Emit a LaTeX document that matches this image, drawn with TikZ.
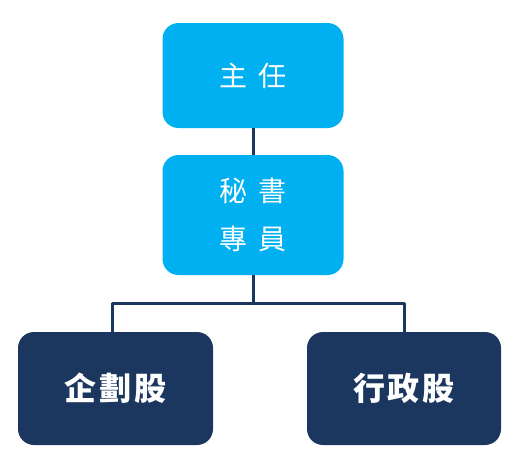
\documentclass[tikz,border=0pt]{standalone}
\usepackage{fontspec}
\usepackage{xcolor}
\usepackage{tikz}
\newfontfamily\cjk{Noto Sans CJK TC}
\definecolor{lightblue}{HTML}{00B0F0}
\definecolor{navy}{HTML}{1B375F}

\tikzset{
    chief/.style={rectangle, rounded corners=16pt, fill=lightblue, text=white,
                  minimum width=181pt, minimum height=105pt, inner sep=0pt,
                  font=\cjk\fontsize{28}{48}\selectfont, align=center},
    section/.style={rectangle, rounded corners=16pt, fill=navy, text=white,
                  minimum width=195pt, minimum height=113pt, inner sep=0pt,
                  font=\cjk\bfseries\fontsize{32}{36}\selectfont},
    link/.style={draw=navy, line width=3pt}
}

\begin{document}
\begin{tikzpicture}[x=1pt, y=-1pt, line join = round]

                                \useasboundingbox (0,0) rectangle (521,455);

                                % top of the chart
                                \node [chief] (head) at (253,75.5) {主\hspace{12pt}任};
                                \node [chief, minimum height=120pt] (secr) at (253,215)
                                    {秘\hspace{12pt}書\\專\hspace{12pt}員};

                                % the two sections
                                \node [section] (plan) at (115.5,388.5) {企\hspace{3pt}劃\hspace{3pt}股};
                                \node [section, minimum width=194pt] (admin) at (404,388.5) {行\hspace{3pt}政\hspace{3pt}股};

                                \coordinate (split) at (253,303);

                                \begin{scope}[link]
                                    \draw (head.south) -- (secr.north);
                                    \draw (secr.south) -- (split);
                                    \draw ([xshift=-3.5pt]plan.north) |- (split) -| (admin.north);
                                \end{scope}
                    \end{tikzpicture}
\end{document}
